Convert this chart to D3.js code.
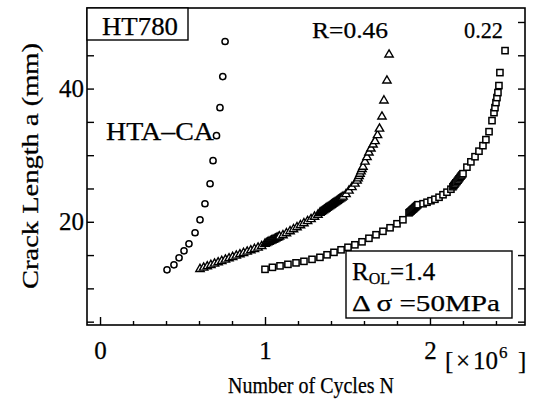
<!DOCTYPE html>
<html>
<head>
<meta charset="utf-8">
<script src="https://cdn.jsdelivr.net/npm/d3@7"></script>
<style>
  html, body { margin: 0; padding: 0; background: #fff; }
  svg { display: block; }
  text { font-family: "Liberation Serif", "Times New Roman", serif; fill: #000; stroke: #000; stroke-width: 0.25px; }
</style>
</head>
<body>
<svg id="chart" width="534" height="404"></svg>
<script>
// Crack growth curves: crack length a (mm) vs number of cycles N (x 10^6)

// HTA-CA (circles)
const caN = [0.406, 0.448, 0.479, 0.509, 0.539, 0.576, 0.606, 0.636, 0.667, 0.685, 0.706, 0.727, 0.744, 0.758];
const caA = [12.78, 13.53, 14.59, 15.64, 16.69, 18.35, 20.30, 22.71, 25.71, 29.17, 32.93, 37.14, 41.80, 47.07];

// R = 0.46 (triangles)
const r46N = [
  0.606, 0.628, 0.650, 0.672, 0.694, 0.716, 0.738, 0.760, 0.782, 0.804, 0.826, 0.848, 0.870, 0.892, 0.914, 0.936, 0.958, 0.980,
  1.000, 1.008, 1.016, 1.024, 1.032, 1.040, 1.048, 1.056, 1.064, 1.072, 1.080, 1.088,
  1.109, 1.130, 1.152, 1.173, 1.194, 1.215, 1.236, 1.258, 1.279, 1.300, 1.321,
  1.333, 1.340, 1.347, 1.354, 1.361, 1.368, 1.375, 1.382, 1.389, 1.396, 1.403, 1.410, 1.417, 1.424, 1.431, 1.438, 1.445, 1.452, 1.459, 1.466, 1.473,
  1.491, 1.509, 1.527, 1.545,
  1.558, 1.564, 1.570, 1.576, 1.582, 1.588, 1.594,
  1.606, 1.618, 1.630, 1.642, 1.655, 1.667,
  1.682, 1.694, 1.709, 1.721, 1.739, 1.752
];
const r46A = [
  12.90, 13.10, 13.30, 13.50, 13.70, 13.90, 14.10, 14.30, 14.50, 14.70, 14.90, 15.10, 15.30, 15.50, 15.70, 15.90, 16.10, 16.35,
  16.69, 16.79, 16.89, 16.99, 17.08, 17.18, 17.27, 17.37, 17.47, 17.57, 17.67, 17.78,
  17.97, 18.27, 18.57, 18.87, 19.17, 19.47, 19.77, 20.08, 20.38, 20.75, 21.05,
  21.35, 21.47, 21.59, 21.71, 21.83, 21.95, 22.07, 22.19, 22.31, 22.43, 22.55, 22.67, 22.79, 22.91, 23.03, 23.15, 23.27, 23.39, 23.51, 23.63, 23.76,
  24.14, 24.66, 25.19, 25.71,
  26.17, 26.50, 26.85, 27.20, 27.55, 27.90, 28.25,
  29.02, 29.70, 30.38, 30.98, 31.58, 32.10,
  33.00, 33.98, 35.79, 38.20, 41.20, 45.10
];

// R = 0.22 (squares)
const r22N = [
  1.000, 1.045, 1.091, 1.139, 1.188, 1.236, 1.285, 1.333, 1.376, 1.418, 1.461, 1.503, 1.545, 1.588, 1.630, 1.673, 1.715, 1.758, 1.800, 1.836,
  1.873, 1.879, 1.885, 1.891, 1.897, 1.903, 1.909, 1.915, 1.921, 1.927,
  1.958, 1.982, 2.006, 2.030, 2.055, 2.079, 2.103, 2.127,
  2.139, 2.145, 2.151, 2.157, 2.164, 2.170, 2.176, 2.182, 2.188, 2.194, 2.200,
  2.224, 2.248, 2.273, 2.297, 2.321, 2.339, 2.358, 2.376, 2.388,
  2.394, 2.400, 2.406, 2.412, 2.418, 2.424, 2.455
];
const r22A = [
  12.86, 13.16, 13.38, 13.61, 13.83, 14.06, 14.36, 14.66, 15.04, 15.41, 15.79, 16.17, 16.54, 16.99, 17.52, 18.05, 18.57, 19.10, 19.70, 20.30,
  21.35, 21.48, 21.60, 21.75, 21.88, 22.00, 22.15, 22.28, 22.42, 22.56,
  22.71, 22.93, 23.16, 23.38, 23.68, 24.06, 24.44, 24.89,
  25.26, 25.45, 25.65, 25.85, 26.05, 26.25, 26.45, 26.65, 26.85, 27.03, 27.22,
  28.20, 29.00, 29.77, 30.60, 31.43, 32.33, 33.53, 35.19, 36.39,
  37.14, 37.90, 38.65, 39.40, 40.45, 42.40, 45.70
];

// Axis ticks and labels
const xMajorTicks = [0, 1, 2];
const xTickLabels = ["0", "1", "2"];
const xMinorTicks = [0.2, 0.4, 0.6, 0.8, 1.2, 1.4, 1.6, 1.8, 2.2, 2.4];
const yTicks = [5, 10, 15, 20, 25, 30, 35, 40, 45, 50];
const yLabelTicks = [20, 40];
const yTickLabels = ["20", "40"];

const svg = d3.select("#chart");
const frame = { left: 87, right: 525, top: 8, bottom: 325 };
const serif = "'Liberation Serif', 'Times New Roman', serif";

const x = d3.scaleLinear().domain([-0.079, 2.576]).range([frame.left, frame.right]);
const y = d3.scaleLinear().domain([4.5, 52.1]).range([frame.bottom, frame.top]);

// Plot frame
svg.append("rect")
  .attr("x", frame.left).attr("y", frame.top)
  .attr("width", frame.right - frame.left).attr("height", frame.bottom - frame.top)
  .attr("fill", "none").attr("stroke", "#000").attr("stroke-width", 1.6);

// Bottom axis: inward ticks
const gxMinor = svg.append("g").attr("transform", `translate(0,${frame.bottom})`)
  .call(d3.axisBottom(x).tickValues(xMinorTicks).tickSize(-4).tickFormat(""));
const gxMajor = svg.append("g").attr("transform", `translate(0,${frame.bottom})`)
  .call(d3.axisBottom(x).tickValues(xMajorTicks).tickSize(-8).tickPadding(18)
    .tickFormat((d, i) => xTickLabels[i]));
[gxMinor, gxMajor].forEach(g => {
  g.select(".domain").remove();
  g.selectAll("line").attr("stroke", "#000").attr("stroke-width", 1.4);
});
gxMajor.selectAll("text")
  .attr("fill", "#000")
  .style("font-family", serif).style("font-size", "25px")
  .attr("dy", "0.71em").attr("y", 16);

// Left axis: inward ticks with labels on 20 and 40
const gyL = svg.append("g").attr("transform", `translate(${frame.left},0)`)
  .call(d3.axisLeft(y).tickValues(yTicks).tickSize(-7).tickPadding(3)
    .tickFormat(d => { const k = yLabelTicks.indexOf(d); return k >= 0 ? yTickLabels[k] : ""; }));
gyL.select(".domain").remove();
gyL.selectAll("line").attr("stroke", "#000").attr("stroke-width", 1.4);
gyL.selectAll("text").attr("fill", "#000")
  .style("font-family", serif).style("font-size", "25px");

// Right axis: inward ticks
const gyR = svg.append("g").attr("transform", `translate(${frame.right},0)`)
  .call(d3.axisRight(y).tickValues(yTicks).tickSize(-7).tickFormat(""));
gyR.select(".domain").remove();
gyR.selectAll("line").attr("stroke", "#000").attr("stroke-width", 1.4);

// Series markers
const toPts = (ns, as) => ns.map((n, i) => ({ n, a: as[i] }));

svg.append("g").selectAll("circle").data(toPts(caN, caA)).join("circle")
  .attr("cx", d => x(d.n)).attr("cy", d => y(d.a)).attr("r", 3.1)
  .attr("fill", "#fff").attr("stroke", "#000").attr("stroke-width", 1.5);

const tri = d3.symbol().type(d3.symbolTriangle).size(30);
svg.append("g").selectAll("path").data(toPts(r46N, r46A)).join("path")
  .attr("d", tri)
  .attr("transform", d => `translate(${x(d.n)},${y(d.a)})`)
  .attr("fill", "#fff").attr("stroke", "#000").attr("stroke-width", 1.4);

svg.append("g").selectAll("rect").data(toPts(r22N, r22A)).join("rect")
  .attr("x", d => x(d.n) - 3.1).attr("y", d => y(d.a) - 3.1)
  .attr("width", 6.2).attr("height", 6.2)
  .attr("fill", "#fff").attr("stroke", "#000").attr("stroke-width", 1.5);

// Annotations
svg.append("rect").attr("x", frame.left).attr("y", frame.top)
  .attr("width", 101).attr("height", 32)
  .attr("fill", "#fff").attr("stroke", "#000").attr("stroke-width", 1.4);
svg.append("text").attr("x", 102).attr("y", 35).attr("font-size", 25)
  .attr("textLength", 76).attr("lengthAdjust", "spacingAndGlyphs").text("HT780");

svg.append("text").attr("x", 106).attr("y", 140).attr("font-size", 25)
  .attr("textLength", 108).attr("lengthAdjust", "spacingAndGlyphs").text("HTA\u2013CA");

svg.append("text").attr("x", 312).attr("y", 38).attr("font-size", 23)
  .attr("textLength", 76).attr("lengthAdjust", "spacingAndGlyphs").text("R=0.46");
svg.append("text").attr("x", 464).attr("y", 38).attr("font-size", 23)
  .attr("textLength", 39).attr("lengthAdjust", "spacingAndGlyphs").text("0.22");

// Loading condition box
svg.append("rect").attr("x", 346).attr("y", 251).attr("width", 166).attr("height", 67)
  .attr("fill", "#fff").attr("stroke", "#000").attr("stroke-width", 1.4);
const rol = svg.append("text").attr("x", 352).attr("y", 280).attr("font-size", 25);
rol.append("tspan").text("R");
rol.append("tspan").attr("font-size", 16).attr("dy", 4).text("OL");
rol.append("tspan").attr("dy", -4).text("=1.4");
svg.append("text").attr("x", 352).attr("y", 311).attr("font-size", 23)
  .attr("textLength", 148).attr("lengthAdjust", "spacingAndGlyphs").text("\u0394 \u03c3 =50MPa");

// Axis titles
svg.append("text").attr("x", 311).attr("y", 393).attr("font-size", 23)
  .attr("text-anchor", "middle")
  .attr("textLength", 166).attr("lengthAdjust", "spacingAndGlyphs")
  .text("Number of Cycles N");

const unitY = 369;
svg.append("text").attr("x", 445).attr("y", unitY).attr("font-size", 25).text("[");
svg.append("text").attr("x", 456).attr("y", unitY).attr("font-size", 25).text("\u00d7");
svg.append("text").attr("x", 473).attr("y", unitY).attr("font-size", 25).text("10");
svg.append("text").attr("x", 499).attr("y", unitY - 11).attr("font-size", 17).text("6");
svg.append("text").attr("x", 518).attr("y", unitY).attr("font-size", 25).text("]");

svg.append("text")
  .attr("transform", "translate(38,166) rotate(-90)")
  .attr("text-anchor", "middle").attr("font-size", 23)
  .attr("textLength", 246).attr("lengthAdjust", "spacingAndGlyphs")
  .text("Crack Length a (mm)");
</script>
</body>
</html>
